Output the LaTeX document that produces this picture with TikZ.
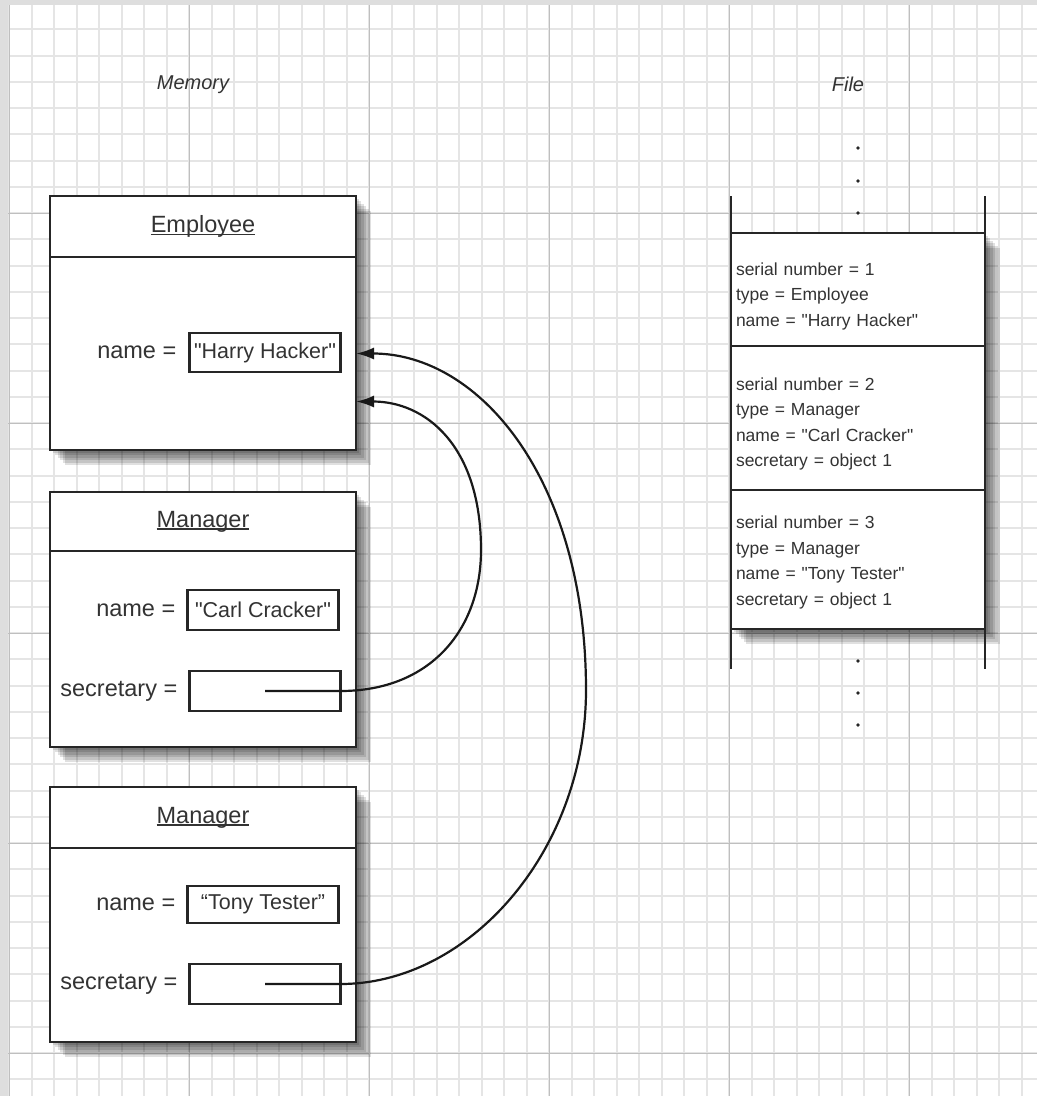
\documentclass[tikz,border=0pt]{standalone}
\usepackage{fontspec}
\setmainfont{Liberation Sans}[Ligatures=TeXOff]
\usetikzlibrary{positioning,arrows.meta}
\newcommand{\clsname}[1]{\setbox0\hbox{#1}\rlap{\rule[-2.5pt]{\wd0}{1.3pt}}\box0}
\newcommand{\pad}[1]{\rule{0pt}{#1}}

\begin{document}
\begin{tikzpicture}[x=1pt,y=-1pt,>={Latex[length=18pt,width=12pt]}]
\tikzset{minor/.style={color=black!10,line width=2pt}}
\tikzset{major/.style={color=black!25,line width=1pt}}
\tikzset{shadowstep/.style={preaction={fill=black,opacity=.12,transform canvas={shift={(#1,-#1)}}}}}
\tikzset{boxshadow/.style={shadowstep=2.5pt,shadowstep=5pt,shadowstep=7.5pt,shadowstep=10pt,shadowstep=12.5pt,shadowstep=15pt}}
\tikzset{clshead/.style={draw=black!85,line width=2.6pt,fill=white,minimum width=306pt,minimum height=61pt,inner sep=0pt,outer sep=0pt,font=\fontsize{23.5}{28}\selectfont,text=black!80,boxshadow}}
\tikzset{clsbody/.style={clshead,below=0pt of #1}}
\tikzset{valbox/.style={draw=black!85,line width=2.2pt,fill=white,minimum width=151pt,minimum height=39pt,inner sep=0pt,outer sep=0pt,font=\fontsize{21.5}{26}\selectfont,text=black!80}}
\tikzset{flabel/.style={inner sep=0pt,font=\fontsize{23.5}{28}\selectfont,text=black!80}}
\tikzset{recbox/.style={draw=black!85,line width=2.6pt,fill=white,minimum width=254pt,text width=244pt,inner xsep=5pt,inner ysep=0pt,outer sep=0pt,align=left,font=\fontsize{17.5}{25.5}\selectfont,text=black!80,boxshadow}}
\tikzset{title/.style={font=\fontsize{20}{24}\selectfont\itshape,text=black!80}}
\tikzset{ref/.style={draw=black!90,line width=2.2pt}}
\useasboundingbox (0,0) rectangle (1037,1096);
\fill[black!13] (0,0) rectangle (1037,1096);
\fill[white] (8,5) rectangle (1037,1096);
\foreach \i in {0,...,45}
\draw[minor] ({9+22.5*\i},5) -- ({9+22.5*\i},1096);
\foreach \j in {1,...,41}
\draw[minor] (8,{3+26.25*\j}) -- (1037,{3+26.25*\j});
\foreach \i in {0,...,5}
\draw[major] ({9+180*\i},5) -- ({9+180*\i},1096);
\foreach \j in {1,...,5}
\draw[major] (8,{3+210*\j}) -- (1037,{3+210*\j});

\node[title] (memlbl) at (193,85) {Memory};
\node[title] (filelbl) at (848,84) {File};

\node[clshead] (emphead) at (203,226.5) {\clsname{Employee}};
\node[clsbody=emphead,minimum height=193pt] (empbody) {};
\node[valbox] (hh) at (265,352.5) {"Harry Hacker"};
\node[flabel,left=13pt of hh] (hhlbl) {name =};

\node[clshead,minimum height=59pt] (mgr1head) at (203,521.5) {\clsname{Manager}};
\node[clsbody=mgr1head,minimum height=196pt] (mgr1body) {};
\node[valbox,minimum height=40pt] (cc) at (263,610) {"Carl Cracker"};
\node[flabel,left=12pt of cc] (cclbl) {name =};
\node[valbox,minimum height=40pt] (sec1) at (265,691) {};
\node[flabel,left=12pt of sec1] (sec1lbl) {secretary =};

\node[clshead] (mgr2head) at (203,817.5) {\clsname{Manager}};
\node[clsbody=mgr2head,minimum height=194pt] (mgr2body) {};
\node[valbox,minimum height=37pt] (tt) at (263,904.5) {“Tony Tester”};
\node[flabel,left=12pt of tt] (ttlbl) {name =};
\node[valbox,minimum height=40pt] (sec2) at (265,984) {};
\node[flabel,left=12pt of sec2] (sec2lbl) {secretary =};

\node[recbox,minimum height=113pt] (rec1) at (858,289.5) {\pad{26.6pt}serial number = 1\\type = Employee\\name = "Harry Hacker"};
\node[recbox,minimum height=144pt,below=0pt of rec1] (rec2) {\pad{24.6pt}serial number = 2\\type = Manager\\name = "Carl Cracker"\\secretary = object 1};
\node[recbox,minimum height=139pt,below=0pt of rec2] (rec3) {\pad{18.6pt}serial number = 3\\type = Manager\\name = "Tony Tester"\\secretary = object 1};
\draw[black!85,line width=2.6pt] ([yshift=37pt]rec1.north west) -- ([yshift=-40pt]rec3.south west);
\draw[black!85,line width=2.6pt] ([yshift=37pt]rec1.north east) -- ([yshift=-40pt]rec3.south east);
\foreach \y in {148,181,213,661,693,725}
\fill[black!85] (858,\y) circle (1.8pt);

\coordinate (bend1) at (481,550);
\coordinate (bend2) at (586,690);
\draw[ref,->] (sec1.center) -- (sec1.east) .. controls (430,691) and (481,630) .. (bend1) .. controls (481,445) and (425,401.5) .. ([yshift=-48pt]empbody.east);
\draw[ref,->] (sec2.center) -- (sec2.east) .. controls (470,984) and (586,850) .. (bend2) .. controls (586,480) and (480,353.5) .. (empbody.east);
\end{tikzpicture}
\end{document}
